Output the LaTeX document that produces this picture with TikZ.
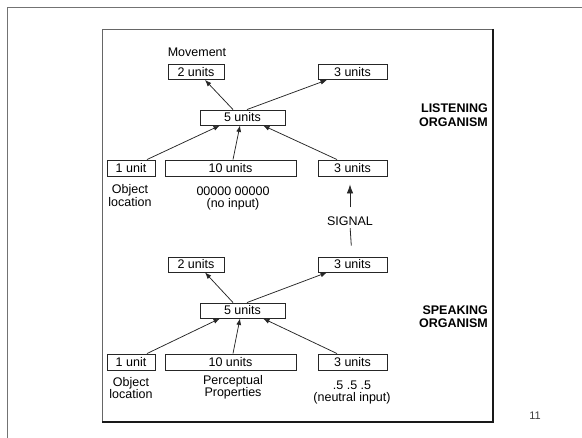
\documentclass[tikz,border=0pt]{standalone}
\usepackage{fontspec}
\setmainfont{Liberation Sans}
\usetikzlibrary{arrows.meta}
\begin{document}
\begin{tikzpicture}[x=1pt,y=-1pt,
  unitbox/.style={draw=black!85, line width=0.9pt, inner sep=0pt, minimum height=15pt, font=\fontsize{12.5}{12.5}\selectfont},
  lbl/.style={inner sep=0pt, align=center, font=\fontsize{12.5}{12.5}\selectfont},
  hdr/.style={inner sep=0pt, align=right, anchor=east, font=\bfseries\fontsize{12.5}{13.5}\selectfont},
  conn/.style={line width=0.75pt, draw=black!85, -{Latex[length=6.5pt,width=5pt]}},
  bigconn/.style={line width=0.8pt, draw=black!85, -{Latex[length=9pt,width=6.5pt]}},
  plain/.style={line width=0.8pt, draw=black!85},
]
\useasboundingbox (0,0) rectangle (582,438);
% slide frame
\draw[black!55, line width=0.8pt] (7,438) -- (7,7) -- (582,7);
% figure frame
\draw[black!60, line width=0.7pt] (102,422) -- (102,29) -- (493,29);
\draw[black!90, line width=1.5pt] (493,29) -- (493,422) -- (102,422);

% ---------- listening organism ----------
\node[lbl] (mov) at (197,52) {Movement};
\node[unitbox, minimum width=56pt] (t2) at (196,72) {2 units};
\node[unitbox, minimum width=69pt] (t3) at (352.5,72) {3 units};
\node[unitbox, minimum width=85pt] (t5) at (242.5,117.5) {5 units};
\node[unitbox, minimum width=48pt, minimum height=16pt] (t1) at (131,168) {1 unit};
\node[unitbox, minimum width=131pt, minimum height=16pt] (t10) at (230.5,168) {10 units};
\node[unitbox, minimum width=69pt, minimum height=16pt] (tr3) at (352.5,168) {3 units};
\node[lbl] (tobj) at (130,195.5) {Object\\location};
\node[lbl] (tzero) at (233,198.5) {00000 00000\\(no input)};
\node[hdr] (listen) at (488,115) {LISTENING\\ORGANISM};

\draw[conn] ([xshift=-9.5pt]t5.north) -- ([xshift=9pt]t2.south);
\draw[conn] ([xshift=4.5pt]t5.north) -- ([xshift=-25.5pt]t3.south);
\draw[conn] ([xshift=16pt]t1.north) -- ([xshift=-22.5pt]t5.south);
\draw[conn] ([xshift=2.5pt]t10.north) -- ([xshift=-2.5pt]t5.south);
\draw[conn] ([xshift=-15.5pt]tr3.north) -- ([xshift=20.5pt]t5.south);

% ---------- signal ----------
\node[lbl] (signal) at (350,221) {SIGNAL};

% ---------- speaking organism ----------
\node[unitbox, minimum width=56pt] (b2) at (196,264.5) {2 units};
\node[unitbox, minimum width=69pt] (b3) at (352.5,264.5) {3 units};
\node[unitbox, minimum width=85pt] (b5) at (242.5,310.5) {5 units};
\node[unitbox, minimum width=48pt, minimum height=16pt] (b1) at (131,362) {1 unit};
\node[unitbox, minimum width=131pt, minimum height=16pt] (b10) at (230.5,362) {10 units};
\node[unitbox, minimum width=69pt, minimum height=16pt] (br3) at (352.5,362) {3 units};
\node[lbl] (bobj) at (131,388) {Object\\location};
\node[lbl] (bperc) at (233,387.5) {Perceptual\\Properties};
\node[lbl] (bneut) at (352,392.5) {.5 .5 .5\\(neutral input)};
\node[hdr] (speak) at (488,316.5) {SPEAKING\\ORGANISM};

\draw[conn] ([xshift=-9.5pt]b5.north) -- ([xshift=9pt]b2.south);
\draw[conn] ([xshift=4.5pt]b5.north) -- ([xshift=-25.5pt]b3.south);
\draw[conn] ([xshift=16pt]b1.north) -- ([xshift=-22.5pt]b5.south);
\draw[conn] ([xshift=2.5pt]b10.north) -- ([xshift=-2.5pt]b5.south);
\draw[conn] ([xshift=-15.5pt]br3.north) -- ([xshift=20.5pt]b5.south);

% signal path
\draw[plain, shorten <=11pt, shorten >=2.5pt] ([xshift=-0.5pt]b3.north) -- (signal.south);
\draw[bigconn, shorten <=9pt, shorten >=8pt] (signal.north) -- ([xshift=-2.5pt]tr3.south);

% page number
\node[inner sep=0pt, font=\fontsize{11}{11}\selectfont, text=black!75] (page) at (535,416) {11};
\end{tikzpicture}
\end{document}
